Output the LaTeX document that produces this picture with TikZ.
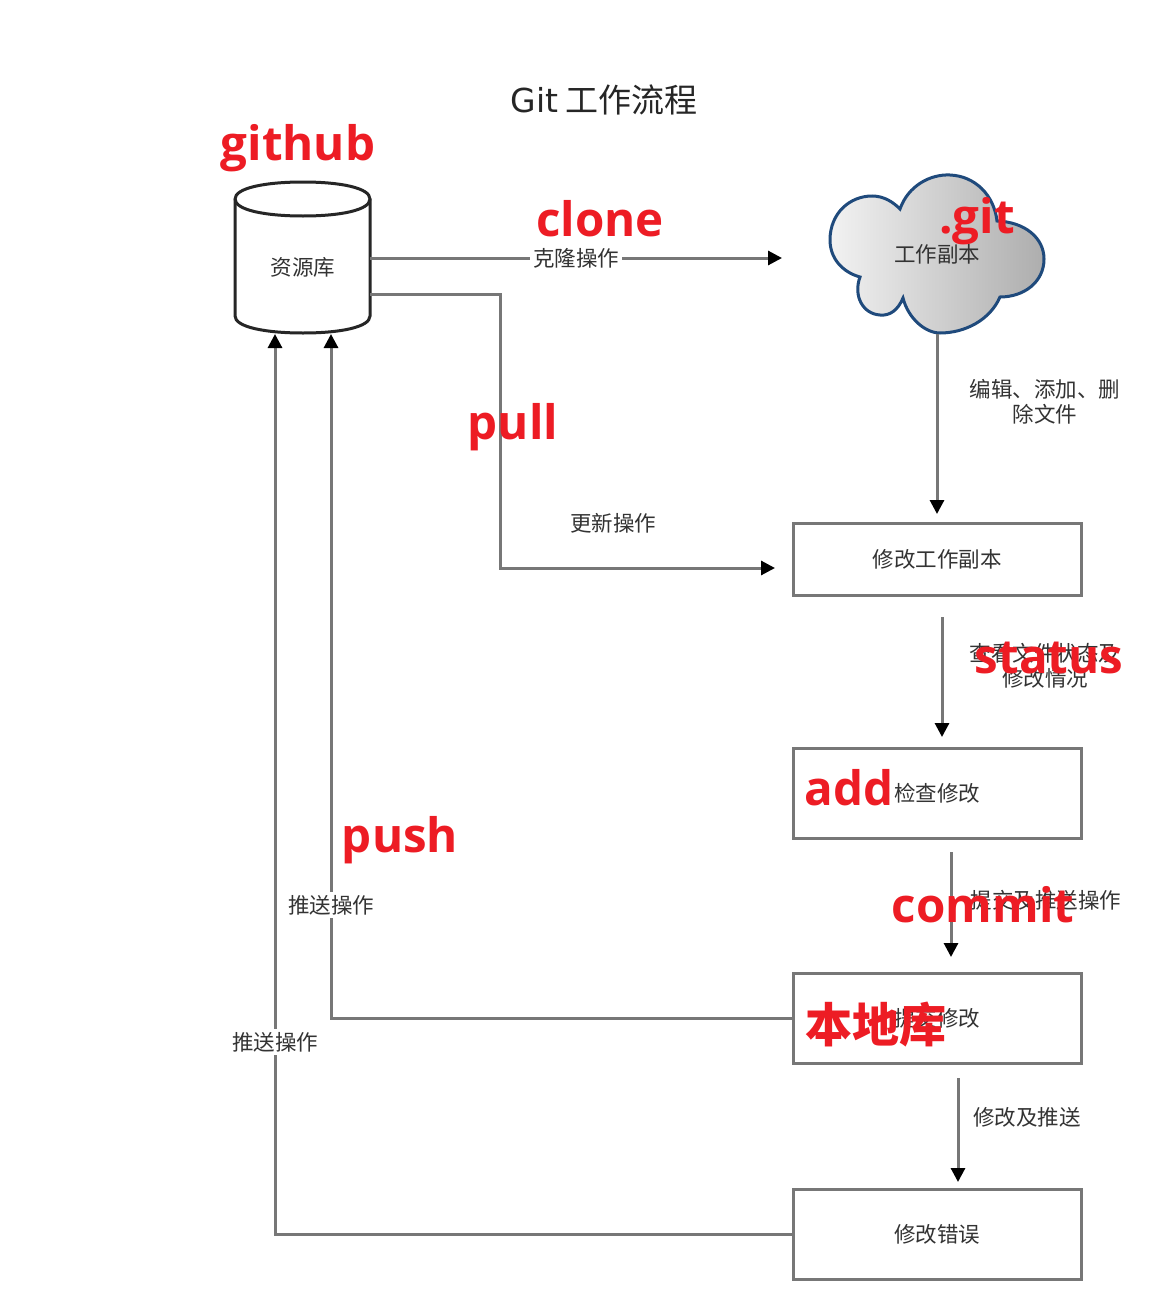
\documentclass[tikz,border=0pt]{standalone}
\usepackage{fontspec}
\setmainfont{Noto Sans CJK SC}
\newfontfamily\latinred{Open Sans}
\newfontfamily\titlefont{DejaVu Sans}
\usetikzlibrary{arrows.meta}
\definecolor{linegray}{HTML}{777777}
\definecolor{txtgray}{HTML}{333333}
\definecolor{redlab}{HTML}{ED1C24}
\definecolor{cloudblue}{HTML}{1F4A7C}
\tikzset{
  wire/.style={draw=linegray,line width=3pt},
  arr/.style={wire,-{Triangle[length=14pt,width=14pt,color=black]}},
  boxnode/.style={draw=linegray,line width=3pt,minimum width=288pt,inner sep=0pt,font=\fontsize{21.5}{24}\selectfont,text=txtgray},
  captxt/.style={inner sep=0pt,align=center,font=\fontsize{21.5}{25}\selectfont,text=txtgray},
  capw/.style={captxt,fill=white,inner sep=3pt},
  redl/.style={inner sep=0pt,text=redlab,font=\latinred\bfseries\fontsize{47.5}{48}\selectfont},
  redc/.style={inner sep=0pt,text=redlab,font=\bfseries\fontsize{47}{47}\selectfont},
}
\begin{document}
\begin{tikzpicture}[x=1pt,y=-1pt]
\useasboundingbox (0,0) rectangle (1171,1306);
\fill[white] (0,0) rectangle (1171,1306);
% title
\node[captxt,text=black!85] (title) at (604,100) {\fontsize{33}{36}\selectfont{\titlefont Git} 工作流程};
% repository cylinder
\draw[line width=3pt,draw=black!85,fill=white]
  (235,199) -- (235,316) .. controls (235,327) and (265,333) .. (303,333)
  .. controls (341,333) and (370,327) .. (370,316) -- (370,199)
  .. controls (370,188) and (341,182) .. (303,182)
  .. controls (265,182) and (235,188) .. (235,199) -- cycle;
\draw[line width=3pt,draw=black!85] (235,199) .. controls (235,210) and (265,216) .. (303,216)
  .. controls (341,216) and (370,210) .. (370,199);
\node[captxt] (repo) at (303,267) {资源库};
\coordinate (repoA) at (370,258);
\coordinate (repoB) at (370,294);
\coordinate (repoIn1) at (275,334);
\coordinate (repoIn2) at (331,334);
% cloud
\path[left color=black!5,right color=black!32,draw=cloudblue,line width=3pt]
  (900,209) .. controls (908,186) and (930,174) .. (950,175)
  .. controls (975,176) and (994,195) .. (997,221)
  .. controls (1025,222) and (1044,238) .. (1044,259)
  .. controls (1044,282) and (1024,297) .. (1000,297)
  .. controls (990,320) and (965,333) .. (940,333)
  .. controls (925,333) and (908,318) .. (903,298)
  .. controls (898,310) and (890,316) .. (880,315)
  .. controls (863,314) and (853,296) .. (860,277)
  .. controls (842,272) and (830,258) .. (830,240)
  .. controls (830,213) and (850,196) .. (872,196)
  .. controls (884,196) and (893,202) .. (900,209) -- cycle;
\node[captxt] (cloud) at (937,254) {工作副本};
\coordinate (cloudS) at (937,334);
% boxes
\node[boxnode,minimum height=72pt] (b1) at (937,559) {修改工作副本};
\node[boxnode,minimum height=90pt] (b2) at (937,793) {检查修改};
\node[boxnode,minimum height=90pt] (b3) at (937,1018) {提交修改};
\node[boxnode,minimum height=90pt] (b4) at (937,1234) {修改错误};
% connector ends
\coordinate (cloneEnd) at (782,258);
\coordinate (pullEnd) at (775,568);
\coordinate (cEnd1) at (937,514);
\coordinate (s2) at (942,617); \coordinate (e2) at (942,737);
\coordinate (s3) at (951,852); \coordinate (e3) at (951,957);
\coordinate (s4) at (958,1078); \coordinate (e4) at (958,1182);
\coordinate (pullA) at (500,294);
\coordinate (pullB) at (500,568);
% connectors
\draw[arr] (repoA) -- (cloneEnd);
\draw[arr] (repoB) -- (pullA) -- (pullB) -- (pullEnd);
\draw[arr] (cloudS) -- (cEnd1);
\draw[arr] (s2) -- (e2);
\draw[arr] (s3) -- (e3);
\draw[arr] (s4) -- (e4);
\draw[arr] (b3.west) -- (repoIn2 |- b3.west) -- (repoIn2);
\draw[arr] (b4.west) -- (repoIn1 |- b4.west) -- (repoIn1);
% labels
\node[capw] (l1) at (576,258) {克隆操作};
\node[captxt] (l2) at (613,523) {更新操作};
\node[captxt] (l3) at (1045,402) {编辑、添加、删\\除文件};
\node[captxt] (l4) at (1045,666) {查看文件状态及\\修改情况};
\node[captxt] (l5) at (1046,900) {提交及推送操作};
\node[captxt] (l6) at (1027,1117) {修改及推送};
\node[capw] (l7) at (331,905) {推送操作};
\node[capw] (l8) at (275,1042) {推送操作};
% red annotations
\node[redl] (r1) at (298,148) {github};
\node[redl] (r2) at (600,219) {clone};
\node[redl] (r3) at (977,221) {.git};
\node[redl] (r4) at (513,427) {pull};
\node[redl] (r5) at (1049,658) {status};
\node[redl] (r6) at (849,788) {add};
\node[redl] (r7) at (400,840) {push};
\node[redl] (r8) at (983,905) {commit};
\node[redc] (r9) at (876,1025) {本地库};
\end{tikzpicture}
\end{document}
